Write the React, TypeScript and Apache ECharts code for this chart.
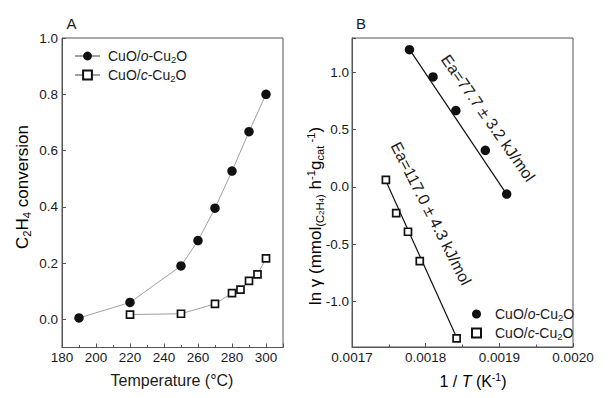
import React, { useEffect, useRef } from 'react';
import * as echarts from 'echarts';

// ---------- data ----------
// Panel A: C2H4 conversion vs temperature
const tempO = [190, 220, 250, 260, 270, 280, 290, 300];
const convO = [0.005, 0.06, 0.19, 0.28, 0.395, 0.527, 0.667, 0.8];
const tempC = [220, 250, 270, 280, 285, 290, 295, 300];
const convC = [0.017, 0.02, 0.055, 0.093, 0.106, 0.137, 0.16, 0.217];

// Panel B: Arrhenius plot
const invTO = [0.001778, 0.00181, 0.001841, 0.001881, 0.00191];
const lnRO = [1.198, 0.96, 0.666, 0.319, -0.064];
const invTC = [0.001746, 0.00176, 0.001776, 0.001792, 0.001842];
const lnRC = [0.061, -0.23, -0.393, -0.649, -1.324];

// fitted lines (endpoints)
const fitXO = [0.001778, 0.001911];
const fitYO = [1.2, -0.075];
const fitXC = [0.001745, 0.001843];
const fitYC = [0.065, -1.33];

// tick labels
const xTicksA = [180, 200, 220, 240, 260, 280, 300];
const yTicksA = [0, 0.2, 0.4, 0.6, 0.8, 1.0];
const xTicksB = [0.0017, 0.0018, 0.0019, 0.002];
const yTicksB = [-1.0, -0.5, 0, 0.5, 1.0];

const eaO = 'Ea=77.7 ± 3.2 kJ/mol';
const eaC = 'Ea=117.0 ± 4.3 kJ/mol';

const FF = '"Liberation Sans", Arial, Helvetica, sans-serif';
const TXT = '#1a1a1a';
const AX = '#555';

const has = (arr: number[], v: number) => arr.some((t) => Math.abs(t - v) < 1e-9);

const legendNames: Record<string, string> = {
  A_o: '{n|CuO/}{i|o}{n|-Cu}{s|2}{n|O}',
  A_c: '{n|CuO/}{i|c}{n|-Cu}{s|2}{n|O}',
  B_o: '{n|CuO/}{i|o}{n|-Cu}{s|2}{n|O}',
  B_c: '{n|CuO/}{i|c}{n|-Cu}{s|2}{n|O}',
};

const legendRich = {
  n: { fontSize: 14, fontFamily: FF, color: TXT, lineHeight: 16 },
  i: { fontSize: 14, fontFamily: FF, color: TXT, lineHeight: 16, fontStyle: 'italic' },
  s: { fontSize: 9.5, fontFamily: FF, color: TXT, lineHeight: 10, verticalAlign: 'bottom' },
};

function titleRich(fs: number) {
  return {
    n: { fontSize: fs, fontFamily: FF, color: TXT, lineHeight: 20 },
    i: { fontSize: fs, fontFamily: FF, color: TXT, lineHeight: 20, fontStyle: 'italic' },
    s: { fontSize: fs * 0.66, fontFamily: FF, color: TXT, lineHeight: 12, verticalAlign: 'bottom' },
    ss: { fontSize: fs * 0.47, fontFamily: FF, color: TXT, lineHeight: 6, verticalAlign: 'bottom' },
    p: { fontSize: fs * 0.66, fontFamily: FF, color: TXT, lineHeight: 11, verticalAlign: 'top' },
  };
}

function axisBase() {
  return {
    splitLine: { show: false },
    axisLine: { show: true, onZero: false, lineStyle: { color: AX, width: 1 } },
    axisTick: { show: true, inside: true, length: 4, lineStyle: { color: AX } },
    axisLabel: { color: TXT, fontSize: 13.5, fontFamily: FF },
  };
}

export default function App() {
  const ref = useRef<HTMLDivElement>(null);

  useEffect(() => {
    document.body.style.margin = '0';
    if (!ref.current) return;
    const chart = echarts.init(ref.current, undefined, { renderer: 'svg' });

    const option: any = {
      animation: false,
      backgroundColor: '#fff',
      grid: [
        { left: 62, top: 38, width: 221, height: 309.5, show: true, borderColor: AX, borderWidth: 1 },
        { left: 352, top: 38, width: 221, height: 309, show: true, borderColor: AX, borderWidth: 1 },
      ],
      xAxis: [
        {
          ...axisBase(),
          type: 'value',
          gridIndex: 0,
          min: 180,
          max: 310,
          interval: 20,
          minorTick: { show: true, splitNumber: 2, length: 2.5, lineStyle: { color: AX } },
          axisLabel: {
            ...axisBase().axisLabel,
            margin: 3,
            formatter: (v: number) => (has(xTicksA, v) ? String(v) : ''),
          },
        },
        {
          ...axisBase(),
          type: 'value',
          gridIndex: 1,
          min: 0.0017,
          max: 0.002,
          interval: 0.0001,
          minorTick: { show: true, splitNumber: 2, length: 2.5, lineStyle: { color: AX } },
          axisLabel: {
            ...axisBase().axisLabel,
            margin: 3,
            formatter: (v: number) => (has(xTicksB, v) ? v.toFixed(4) : ''),
          },
        },
      ],
      yAxis: [
        {
          ...axisBase(),
          type: 'value',
          gridIndex: 0,
          min: -0.1,
          max: 1.0,
          splitNumber: 5,
          axisLabel: {
            ...axisBase().axisLabel,
            margin: 4,
            formatter: (v: number) => (has(yTicksA, v) ? v.toFixed(1) : ''),
          },
        },
        {
          ...axisBase(),
          type: 'value',
          gridIndex: 1,
          min: -1.4,
          max: 1.3,
          splitNumber: 5,
          axisLabel: {
            ...axisBase().axisLabel,
            margin: 3,
            formatter: (v: number) => (has(yTicksB, v) ? v.toFixed(1) : ''),
          },
        },
      ],
      legend: [
        {
          orient: 'vertical',
          left: 74,
          top: 49,
          padding: 0,
          itemWidth: 25,
          itemHeight: 11,
          itemGap: 4,
          data: ['A_o', 'A_c'],
          formatter: (name: string) => legendNames[name],
          textStyle: { rich: legendRich, padding: [0, 0, 0, 3] },
          selectedMode: false,
        },
        {
          orient: 'vertical',
          left: 471,
          top: 307,
          padding: 0,
          itemWidth: 9,
          itemHeight: 9,
          itemGap: 4,
          data: ['B_o', 'B_c'],
          formatter: (name: string) => legendNames[name],
          textStyle: { rich: legendRich, padding: [0, 0, 0, 9] },
          selectedMode: false,
        },
      ],
      series: [
        {
          name: 'A_o',
          type: 'line',
          xAxisIndex: 0,
          yAxisIndex: 0,
          data: tempO.map((t, i) => [t, convO[i]]),
          symbol: 'circle',
          symbolSize: 9.5,
          itemStyle: { color: '#111' },
          lineStyle: { color: '#a0a0a0', width: 1 },
          z: 3,
        },
        {
          name: 'A_c',
          type: 'line',
          xAxisIndex: 0,
          yAxisIndex: 0,
          data: tempC.map((t, i) => [t, convC[i]]),
          symbol: 'rect',
          symbolSize: 7,
          itemStyle: { color: '#fff', borderColor: '#111', borderWidth: 1.7 },
          lineStyle: { color: '#a0a0a0', width: 1 },
          z: 3,
        },
        {
          name: 'fitO',
          type: 'line',
          xAxisIndex: 1,
          yAxisIndex: 1,
          data: fitXO.map((x, i) => [x, fitYO[i]]),
          symbol: 'none',
          lineStyle: { color: '#111', width: 1.2 },
          z: 2,
        },
        {
          name: 'fitC',
          type: 'line',
          xAxisIndex: 1,
          yAxisIndex: 1,
          data: fitXC.map((x, i) => [x, fitYC[i]]),
          symbol: 'none',
          lineStyle: { color: '#111', width: 1.2 },
          z: 2,
        },
        {
          name: 'B_o',
          type: 'scatter',
          xAxisIndex: 1,
          yAxisIndex: 1,
          data: invTO.map((x, i) => [x, lnRO[i]]),
          symbol: 'circle',
          symbolSize: 9.5,
          itemStyle: { color: '#111', opacity: 1 },
          z: 3,
        },
        {
          name: 'B_c',
          type: 'scatter',
          xAxisIndex: 1,
          yAxisIndex: 1,
          data: invTC.map((x, i) => [x, lnRC[i]]),
          symbol: 'rect',
          symbolSize: 7,
          itemStyle: { color: '#fff', borderColor: '#111', borderWidth: 1.7, opacity: 1 },
          z: 3,
        },
      ],
      graphic: [
        {
          type: 'text',
          x: 71.5,
          y: 23,
          style: { text: 'A', fontSize: 15, fontFamily: FF, fill: TXT, align: 'center', verticalAlign: 'middle' },
        },
        {
          type: 'text',
          x: 361,
          y: 23,
          style: { text: 'B', fontSize: 15, fontFamily: FF, fill: TXT, align: 'center', verticalAlign: 'middle' },
        },
        {
          type: 'text',
          x: 172,
          y: 380.5,
          style: { text: 'Temperature (°C)', fontSize: 16, fontFamily: FF, fill: TXT, align: 'center', verticalAlign: 'middle' },
        },
        {
          type: 'text',
          x: 22,
          y: 187,
          rotation: Math.PI / 2,
          style: {
            text: '{n|C}{s|2}{n|H}{s|4}{n| conversion}',
            rich: titleRich(17),
            align: 'center',
            verticalAlign: 'middle',
          },
        },
        {
          type: 'text',
          x: 473,
          y: 381,
          style: {
            text: '{n|1 / }{i|T}{n| (K}{p|-1}{n|)}',
            rich: titleRich(16),
            align: 'center',
            verticalAlign: 'middle',
          },
        },
        {
          type: 'text',
          x: 315,
          y: 216,
          rotation: Math.PI / 2,
          style: {
            text: '{n|ln γ (mmol}{s|(C}{ss|2}{s|H}{ss|4}{s|)}{n| h}{p|-1}{n|g}{s|cat}{p| -1}{n|)}',
            rich: titleRich(17),
            align: 'center',
            verticalAlign: 'middle',
          },
        },
        {
          type: 'text',
          x: 488,
          y: 118,
          rotation: (-55 * Math.PI) / 180,
          style: { text: eaO, fontSize: 16, fontFamily: FF, fill: TXT, align: 'center', verticalAlign: 'middle' },
        },
        {
          type: 'text',
          x: 431,
          y: 213.5,
          rotation: (-63 * Math.PI) / 180,
          style: { text: eaC, fontSize: 16, fontFamily: FF, fill: TXT, align: 'center', verticalAlign: 'middle' },
        },
      ],
    };

    chart.setOption(option);
    return () => chart.dispose();
  }, []);

  return <div ref={ref} style={{ width: 614, height: 398 }} />;
}
